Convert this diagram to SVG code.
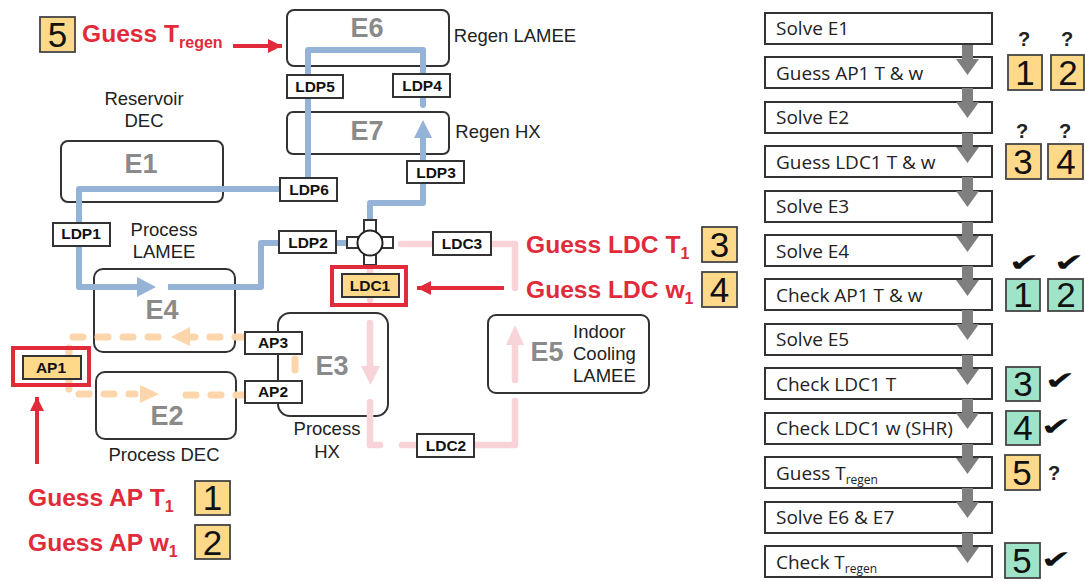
<svg xmlns="http://www.w3.org/2000/svg" width="1085" height="582" viewBox="0 0 1085 582">
<defs>
<marker id="ah" viewBox="0 0 10 10" refX="10" refY="5" markerWidth="3.6" markerHeight="3.6" orient="auto"><path d="M0 0L10 5L0 10z" fill="#e12b3a"/></marker>
</defs>
<style>
text{font-family:"Liberation Sans",Arial,sans-serif}
.eq{fill:#fff;stroke:#333;stroke-width:2}
.en{font-size:27px;font-weight:bold;fill:#8a8a8a;text-anchor:middle}
.lb{font-size:18.5px;fill:#222;text-anchor:middle}
.ls{font-size:18.5px;fill:#222}
.tag{fill:#fff;stroke:#333;stroke-width:2}
.tt{font-size:15.5px;font-weight:bold;fill:#111;text-anchor:middle}
.b{fill:none;stroke:#95b3d7;stroke-width:6;stroke-linejoin:round}
.p{fill:none;stroke:#f8d3d8;stroke-width:6.5;stroke-linecap:round;stroke-linejoin:round}
.o{fill:none;stroke:#fdd5ab;stroke-width:7;stroke-linecap:round;stroke-linejoin:round;stroke-dasharray:10 15}
.red{font-size:24.6px;font-weight:bold;fill:#e12b3a}
.sub{font-size:16px}
.ra{fill:none;stroke:#e12b3a;stroke-width:4}
.num{font-size:35px;fill:#111;text-anchor:middle}
.y{fill:#ffd98a;stroke:#444;stroke-width:1.8}
.g{fill:#9fe3c9;stroke:#444;stroke-width:1.8}
.st{fill:#fff;stroke:#333;stroke-width:2}
.sx{font-family:"Open Sans","Noto Sans",sans-serif;font-size:19px;fill:#222}
.sb{font-size:12px}
.fl{fill:#7f7f7f}
.q{font-size:20px;font-weight:bold;fill:#222;text-anchor:middle}
.ck{font-family:"DejaVu Sans",sans-serif;font-size:24px;fill:#111;text-anchor:middle}
</style>
<g id="E6"><rect class="eq" x="287" y="10" width="162" height="56" rx="7"/><text class="en" x="367" y="37">E6</text><text class="lb" x="515" y="42">Regen LAMEE</text></g>
<g id="E7"><rect class="eq" x="287" y="112" width="162" height="42" rx="6"/><text class="en" x="367" y="140">E7</text><text class="lb" x="498" y="138">Regen HX</text></g>
<g id="E1"><rect class="eq" x="61" y="141" width="162" height="61" rx="7"/><text class="en" x="141" y="173">E1</text><text class="lb" x="144" y="105">Reservoir</text><text class="lb" x="144" y="127">DEC</text></g>
<g id="E4"><rect class="eq" x="94" y="269" width="141" height="83" rx="9"/><text class="en" x="162" y="319">E4</text><text class="lb" x="164" y="236">Process</text><text class="lb" x="164" y="258">LAMEE</text></g>
<g id="E2"><rect class="eq" x="96" y="372" width="140" height="67" rx="9"/><text class="en" x="167" y="425">E2</text><text class="lb" x="164" y="461">Process DEC</text></g>
<g id="E3"><rect class="eq" x="278" y="313" width="110" height="103" rx="12"/><text class="en" x="332" y="375">E3</text><text class="lb" x="327" y="435">Process</text><text class="lb" x="327" y="458">HX</text></g>
<g id="E5"><rect class="eq" x="488" y="315" width="161" height="78" rx="8"/><text class="en" x="547" y="361">E5</text><text class="ls" x="573" y="338">Indoor</text><text class="ls" x="573" y="360">Cooling</text><text class="ls" x="573" y="382">LAMEE</text></g>
<g id="connectors">
<path class="b" d="M308 178V50H423V105" stroke-linecap="round"/>
<path class="b" d="M282 189H79V287H137"/>
<path d="M137 277L156 287L137 297z" fill="#95b3d7"/>
<path class="b" d="M168 287H261V243H290"/>
<path class="b" d="M330 243H352"/>
<path class="b" d="M370 220V203H423V135"/>
<path d="M414 138L423 120L432 138z" fill="#95b3d7"/>
<path class="p" d="M401 244H515V288"/>
<path class="p" d="M370 265V300"/>
<path class="p" d="M370 323V370"/>
<path d="M361 366L370.500 385L380 366z" fill="#f8d3d8"/>
<path class="p" d="M370 402V445H380"/>
<path class="p" d="M402 445H515V401"/>
<path class="p" d="M515 380V345"/>
<path d="M506 345L515 325L524 345z" fill="#f8d3d8"/>
<path class="o" d="M245 337H190"/>
<path d="M190 327L171 337L190 346z" fill="#fdd5ab"/>
<path class="o" d="M158 337H69V356"/>
<path class="o" d="M69 379V394H135"/>
<path d="M140 385L159 394L140 403z" fill="#fdd5ab"/>
<path class="o" d="M186 395H245"/>
<path class="o" d="M295 359V370" style="stroke-dasharray:none"/>
<path class="ra" d="M233 46H282" marker-end="url(#ah)"/>
<path class="ra" d="M504 288H417" marker-end="url(#ah)"/>
<path class="ra" d="M37 464V397" marker-end="url(#ah)"/>
</g>
<g id="valve">
<rect class="tag" x="364" y="220" width="12" height="12"/><rect class="tag" x="347" y="237" width="11" height="11"/><rect class="tag" x="382" y="237" width="11" height="11"/><rect class="tag" x="364" y="254" width="12" height="11"/>
<circle cx="370" cy="243" r="12.500" fill="#fff" stroke="#222" stroke-width="2"/>
</g>
<g id="LDP5"><rect class="tag" x="287" y="75" width="56" height="23"/><text class="tt" x="315" y="92">LDP5</text></g>
<g id="LDP4"><rect class="tag" x="393" y="74" width="57" height="23"/><text class="tt" x="422" y="91">LDP4</text></g>
<g id="LDP6"><rect class="tag" x="280" y="178" width="57" height="23"/><text class="tt" x="309" y="195">LDP6</text></g>
<g id="LDP1"><rect class="tag" x="53" y="223" width="57" height="23"/><text class="tt" x="81" y="239">LDP1</text></g>
<g id="LDP2"><rect class="tag" x="279" y="231" width="57" height="22"/><text class="tt" x="308" y="248">LDP2</text></g>
<g id="LDP3"><rect class="tag" x="407" y="161" width="57" height="22"/><text class="tt" x="436" y="178">LDP3</text></g>
<g id="LDC3"><rect class="tag" x="433" y="232" width="58" height="23"/><text class="tt" x="462" y="249">LDC3</text></g>
<g id="LDC2"><rect class="tag" x="417" y="434" width="57" height="23"/><text class="tt" x="446" y="451">LDC2</text></g>
<g id="LDC1"><rect x="332" y="267" width="74" height="38" fill="none" stroke="#e12b3a" stroke-width="4"/><rect x="342" y="274" width="57" height="23" fill="#ffd98a" stroke="#333" stroke-width="2"/><text class="tt" x="370" y="291">LDC1</text></g>
<g id="AP1"><rect x="13" y="348" width="76" height="37" fill="none" stroke="#e12b3a" stroke-width="4"/><rect x="23" y="356" width="58" height="23" fill="#ffd98a" stroke="#333" stroke-width="2"/><text class="tt" x="51" y="373">AP1</text></g>
<g id="AP3"><rect class="tag" x="245" y="332" width="57" height="22"/><text class="tt" x="273" y="348">AP3</text></g>
<g id="AP2"><rect class="tag" x="245" y="381" width="57" height="22"/><text class="tt" x="273" y="397">AP2</text></g>
<g id="guess5"><rect class="y" x="40" y="17" width="35" height="35"/><text class="num" x="57.500" y="47">5</text><text class="red" x="82" y="42">Guess T<tspan class="sub" dy="6" font-size="17">regen</tspan></text></g>
<g id="guess3"><text class="red" x="526" y="253">Guess LDC T<tspan class="sub" dy="6">1</tspan></text><rect class="y" x="702" y="227" width="35" height="35"/><text class="num" x="719.500" y="257">3</text></g>
<g id="guess4"><text class="red" x="526" y="298">Guess LDC w<tspan class="sub" dy="6">1</tspan></text><rect class="y" x="702" y="272" width="35" height="35"/><text class="num" x="719.500" y="302">4</text></g>
<g id="guess1"><text class="red" x="28" y="506">Guess AP T<tspan class="sub" dy="6">1</tspan></text><rect class="y" x="195" y="481" width="35" height="34"/><text class="num" x="212.500" y="510">1</text></g>
<g id="guess2"><text class="red" x="28" y="551">Guess AP w<tspan class="sub" dy="6">1</tspan></text><rect class="y" x="195" y="525" width="35" height="34"/><text class="num" x="212.500" y="555">2</text></g>
<g id="steps">
<g id="s1"><rect class="st" x="765" y="13" width="227" height="31"/><text class="sx" x="776" y="35">Solve E1</text></g>
<g id="s2"><rect class="st" x="765" y="57" width="227" height="31"/><text class="sx" x="776" y="80">Guess AP1 T &amp; w</text></g>
<g id="s3"><rect class="st" x="765" y="102" width="227" height="31"/><text class="sx" x="776" y="124">Solve E2</text></g>
<g id="s4"><rect class="st" x="765" y="146" width="227" height="31"/><text class="sx" x="776" y="169">Guess LDC1 T &amp; w</text></g>
<g id="s5"><rect class="st" x="765" y="191" width="227" height="31"/><text class="sx" x="776" y="213">Solve E3</text></g>
<g id="s6"><rect class="st" x="765" y="235" width="227" height="31"/><text class="sx" x="776" y="258">Solve E4</text></g>
<g id="s7"><rect class="st" x="765" y="279" width="227" height="31"/><text class="sx" x="776" y="302">Check AP1 T &amp; w</text></g>
<g id="s8"><rect class="st" x="765" y="324" width="227" height="31"/><text class="sx" x="776" y="346">Solve E5</text></g>
<g id="s9"><rect class="st" x="765" y="368" width="227" height="31"/><text class="sx" x="776" y="391">Check LDC1 T</text></g>
<g id="s10"><rect class="st" x="765" y="413" width="227" height="31"/><text class="sx" x="776" y="435">Check LDC1 w (SHR)</text></g>
<g id="s11"><rect class="st" x="765" y="457" width="227" height="31"/><text class="sx" x="776" y="480">Guess T<tspan class="sb" dy="4">regen</tspan></text></g>
<g id="s12"><rect class="st" x="765" y="502" width="227" height="31"/><text class="sx" x="776" y="524">Solve E6 &amp; E7</text></g>
<g id="s13"><rect class="st" x="765" y="546" width="227" height="31"/><text class="sx" x="776" y="569">Check T<tspan class="sb" dy="4">regen</tspan></text></g>
</g>
<g id="flow">
<path class="fl" d="M962 45h11v14h6l-11.500 16l-11.500-16h6z"/>
<path class="fl" d="M962 88h11v14h6l-11.500 16l-11.500-16h6z"/>
<path class="fl" d="M962 133h11v14h6l-11.500 16l-11.500-16h6z"/>
<path class="fl" d="M962 177h11v14h6l-11.500 16l-11.500-16h6z"/>
<path class="fl" d="M962 222h11v14h6l-11.500 16l-11.500-16h6z"/>
<path class="fl" d="M962 266h11v14h6l-11.500 16l-11.500-16h6z"/>
<path class="fl" d="M962 310h11v14h6l-11.500 16l-11.500-16h6z"/>
<path class="fl" d="M962 355h11v14h6l-11.500 16l-11.500-16h6z"/>
<path class="fl" d="M962 399h11v14h6l-11.500 16l-11.500-16h6z"/>
<path class="fl" d="M962 444h11v14h6l-11.500 16l-11.500-16h6z"/>
<path class="fl" d="M962 488h11v14h6l-11.500 16l-11.500-16h6z"/>
<path class="fl" d="M962 533h11v14h6l-11.500 16l-11.500-16h6z"/>
</g>
<g id="checks">
<text class="q" x="1024" y="46">?</text><text class="q" x="1067" y="46">?</text>
<rect class="y" x="1008" y="55" width="34" height="35"/><text class="num" x="1025" y="85">1</text>
<rect class="y" x="1051" y="55" width="33" height="35"/><text class="num" x="1068" y="85">2</text>
<text class="q" x="1022" y="138">?</text><text class="q" x="1065" y="138">?</text>
<rect class="y" x="1006" y="144" width="35" height="35"/><text class="num" x="1023" y="174">3</text>
<rect class="y" x="1048" y="144" width="35" height="35"/><text class="num" x="1066" y="174">4</text>
<text class="ck" transform="translate(1024 271) scale(1.55 1.05)">✔</text><text class="ck" transform="translate(1069 271) scale(1.55 1.05)">✔</text>
<rect class="g" x="1006" y="279" width="34" height="32"/><text class="num" x="1023" y="307">1</text>
<rect class="g" x="1048" y="279" width="35" height="32"/><text class="num" x="1066" y="307">2</text>
<rect class="g" x="1006" y="367" width="34" height="34"/><text class="num" x="1023" y="396">3</text><text class="ck" transform="translate(1060 389) scale(1.55 1.05)">✔</text>
<rect class="g" x="1006" y="411" width="34" height="34"/><text class="num" x="1023" y="440">4</text><text class="ck" transform="translate(1056 435) scale(1.55 1.05)">✔</text>
<rect class="y" x="1005" y="455" width="35" height="35"/><text class="num" x="1022" y="485">5</text><text class="q" x="1054" y="480">?</text>
<rect class="g" x="1005" y="543" width="35" height="35"/><text class="num" x="1022" y="573">5</text><text class="ck" transform="translate(1056 568) scale(1.55 1.05)">✔</text>
</g>
</svg>
